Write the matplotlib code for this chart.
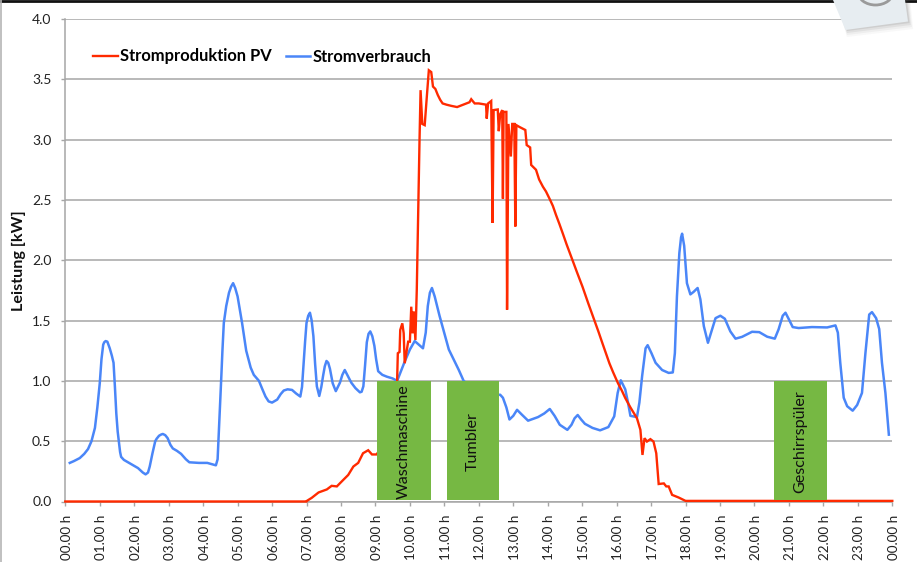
import numpy as np
import matplotlib
matplotlib.use("Agg")
import matplotlib.pyplot as plt
from matplotlib.patches import Polygon, Arc
from matplotlib.transforms import ScaledTranslation

plt.rcParams['font.family'] = ['Lato', 'DejaVu Sans']

# Stromverbrauch (Stunde, kW)
verbrauch_h = [0.13, 0.25, 0.42, 0.55, 0.66, 0.76, 0.86, 0.93, 1.0, 1.05, 1.1, 1.13, 1.17, 1.22, 1.29, 1.35, 1.40,
               1.44, 1.48, 1.52, 1.56, 1.59, 1.62, 1.7, 1.82, 2.11, 2.25, 2.33, 2.4, 2.45, 2.53, 2.57, 2.61, 2.65,
               2.72, 2.78, 2.83, 2.9, 2.97, 3.05, 3.12, 3.24, 3.36, 3.5, 3.6, 3.88, 4.12, 4.25, 4.37, 4.42, 4.46,
               4.53, 4.56, 4.6, 4.67, 4.75, 4.81, 4.87, 4.93, 5.0, 5.06, 5.13, 5.25, 5.38, 5.47, 5.62, 5.72, 5.81,
               5.9, 6.0, 6.15, 6.25, 6.34, 6.45, 6.58, 6.7, 6.82, 6.87, 6.91, 6.96, 7.0, 7.05, 7.1, 7.15, 7.2, 7.25,
               7.3, 7.37, 7.43, 7.48, 7.53, 7.58, 7.63, 7.68, 7.76, 7.85, 7.97, 8.04, 8.11, 8.2, 8.3, 8.42, 8.55,
               8.6, 8.65, 8.7, 8.75, 8.8, 8.85, 8.91, 8.97, 9.02, 9.08, 9.2, 9.33, 9.5,
               9.63, 9.85, 10.0, 10.14, 10.38, 10.46, 10.52, 10.58, 10.64, 10.72, 10.86, 11.13, 11.42, 11.56, 11.9, 12.3,
               12.62, 12.7, 12.8, 12.89, 13.0, 13.11, 13.25, 13.43, 13.72, 13.9, 14.06, 14.2, 14.35, 14.57, 14.69,
               14.78, 14.87, 14.97, 15.08, 15.3, 15.52, 15.76, 15.93, 16.03, 16.12, 16.25, 16.33, 16.4, 16.59, 16.66,
               16.74, 16.84, 16.9, 17.01, 17.13,
               17.32, 17.51, 17.63, 17.69, 17.75, 17.82, 17.87, 17.9, 17.96, 18.04, 18.14, 18.23, 18.35, 18.43, 18.53,
               18.65, 18.75, 18.87, 19.01, 19.14, 19.3, 19.45, 19.64, 19.93, 20.14, 20.37, 20.59, 20.7, 20.82,
               20.9, 20.99, 21.11, 21.28, 21.67, 22.11, 22.35, 22.42, 22.49, 22.59, 22.69, 22.85, 22.98, 23.12,
               23.22, 23.33, 23.41, 23.53, 23.62, 23.7, 23.8, 23.9]
verbrauch_kw = [0.32, 0.335, 0.36, 0.395, 0.435, 0.50, 0.61, 0.78, 0.98, 1.18, 1.30, 1.32, 1.33, 1.325, 1.27, 1.21, 1.15,
                0.95, 0.73, 0.58, 0.485, 0.41, 0.37, 0.345, 0.325, 0.277, 0.24, 0.225, 0.24, 0.29, 0.40, 0.45, 0.50, 0.52,
                0.545, 0.555, 0.56, 0.55, 0.525, 0.47, 0.44, 0.42, 0.395, 0.35, 0.325, 0.32, 0.32, 0.31, 0.30, 0.35, 0.6,
                1.05, 1.25, 1.48, 1.62, 1.73, 1.78, 1.81, 1.77, 1.70, 1.6, 1.48, 1.25, 1.11, 1.05, 1.0, 0.93, 0.87,
                0.83, 0.82, 0.845, 0.89, 0.92, 0.93, 0.925, 0.895, 0.87, 0.95, 1.12, 1.33, 1.48, 1.54, 1.565, 1.5, 1.37, 1.14,
                0.955, 0.875, 0.95, 1.04, 1.12, 1.165, 1.15, 1.1, 0.98, 0.915, 0.985, 1.05, 1.09, 1.04, 0.985, 0.94, 0.905,
                0.91, 0.955, 1.13, 1.32, 1.39, 1.41, 1.37, 1.29, 1.18, 1.08, 1.05, 1.035, 1.02,
                1.0, 1.16, 1.26, 1.33, 1.27, 1.4, 1.62, 1.73, 1.77, 1.70, 1.54, 1.26, 1.09, 1.0, 0.92, 0.88,
                0.885, 0.86, 0.78, 0.68, 0.71, 0.76, 0.72, 0.67, 0.70, 0.73, 0.767, 0.71, 0.636, 0.594, 0.636,
                0.69, 0.717, 0.68, 0.644, 0.61, 0.59, 0.617, 0.706, 0.90, 1.005, 0.93, 0.82, 0.71, 0.70, 0.82,
                1.04, 1.27, 1.296, 1.23, 1.15,
                1.09, 1.066, 1.07, 1.23, 1.70, 2.06, 2.19, 2.22, 2.12, 1.81, 1.717, 1.737, 1.77, 1.676, 1.454,
                1.316, 1.41, 1.52, 1.54, 1.515, 1.41, 1.35, 1.365, 1.407, 1.404, 1.366, 1.35, 1.427, 1.54,
                1.565, 1.515, 1.446, 1.438, 1.446, 1.443, 1.46, 1.4, 1.15, 0.86, 0.79, 0.753, 0.80, 0.90,
                1.23, 1.55, 1.57, 1.52, 1.43, 1.15, 0.90, 0.554]

# Stromproduktion PV (Stunde, kW)
produktion_h = [0.0, 7.0, 7.01, 7.15, 7.35, 7.59, 7.73, 7.88, 8.07, 8.21, 8.36, 8.5, 8.64, 8.79, 8.9, 9.03, 9.6,
                9.63, 9.65, 9.70, 9.72, 9.78, 9.82, 9.85, 9.95, 10.0, 10.04, 10.08, 10.11, 10.16, 10.2, 10.28,
                10.31, 10.36, 10.43, 10.49, 10.55, 10.62, 10.67, 10.74, 10.81, 10.88, 10.95, 11.06, 11.2, 11.37, 11.55,
                11.73, 11.78, 11.88, 12.0, 12.21, 12.23, 12.27, 12.36, 12.40, 12.43, 12.55, 12.58, 12.62, 12.68, 12.70,
                12.72, 12.80, 12.82, 12.86, 12.93, 12.97, 13.03, 13.06, 13.09, 13.18, 13.35, 13.39, 13.49, 13.52, 13.66,
                13.75, 13.86, 13.95, 14.07, 14.15, 14.24, 14.34, 14.44, 14.55, 14.72, 14.85, 15.01, 15.18, 15.35, 15.47,
                15.59, 15.7, 15.79, 15.9, 16.04, 16.15, 16.25, 16.4, 16.59, 16.69, 16.75, 16.81,
                16.88, 16.98, 17.07, 17.15, 17.22, 17.37, 17.44, 17.51, 17.61, 17.8, 18.0, 24.0]
produktion_kw = [0.0, 0.0, 0.005, 0.03, 0.075, 0.10, 0.13, 0.125, 0.18, 0.22, 0.29, 0.32, 0.40, 0.425, 0.39, 0.39, 0.6,
                 1.007, 1.229, 1.24, 1.422, 1.477, 1.395, 1.146, 1.325, 1.325, 1.615, 1.395, 1.574, 1.339, 1.754, 3.0,
                 3.41, 3.13, 3.12, 3.35, 3.575, 3.56, 3.44, 3.42, 3.37, 3.33, 3.30, 3.29, 3.28, 3.27, 3.29,
                 3.31, 3.335, 3.30, 3.30, 3.29, 3.175, 3.30, 3.32, 2.31, 3.245, 3.25, 3.07, 3.21, 3.245, 2.51,
                 3.23, 3.23, 1.59, 3.13, 2.86, 3.13, 3.13, 2.28, 3.12, 3.105, 3.08, 2.955, 2.935, 2.79, 2.75,
                 2.67, 2.61, 2.57, 2.5, 2.45, 2.376, 2.30, 2.22, 2.13, 2.0, 1.9, 1.78, 1.64, 1.505, 1.41,
                 1.31, 1.22, 1.146, 1.07, 0.98, 0.92, 0.858, 0.78, 0.69, 0.594, 0.386, 0.525,
                 0.497, 0.517, 0.497, 0.40, 0.145, 0.15, 0.125, 0.125, 0.055, 0.033, 0.005, 0.005]

# Geraete: Start, Ende, Name
geraet_start = [9.05, 11.07, 20.57]
geraet_ende = [10.6, 12.6, 22.1]
geraet_name = ["Waschmaschine", "Tumbler", "Geschirrspüler"]
geraet_kw = 1.0

y_ticks = [0.0, 0.5, 1.0, 1.5, 2.0, 2.5, 3.0, 3.5, 4.0]
x_labels = [f"{h:02d}.00 h" for h in range(24)] + ["00.00 h"]

W, H = 917, 562
grau = '#a6a6a6'


def px(x, y):
    return (x / W, 1 - y / H)


fig = plt.figure(figsize=(W / 100, H / 100), dpi=100)
ax = fig.add_axes([65.3 / W, (H - 501.5) / H, 827 / W, 482.5 / H])

ax.plot(verbrauch_h, verbrauch_kw, color='#4a86f8', lw=1.8, zorder=3, label='Stromverbrauch', solid_joinstyle='round')
ax.plot(produktion_h, produktion_kw, color='#ff2a00', lw=1.7, zorder=4, clip_on=False,
        label='Stromproduktion PV', solid_joinstyle='miter')

# gruene Balken liegen ueber den Linien
for start, ende, name in zip(geraet_start, geraet_ende, geraet_name):
    ax.bar((start + ende) / 2, geraet_kw - 0.012, bottom=0.012, width=ende - start, color='#76b843', zorder=5)
    ax.text(start + (ende - start) * 0.5, 0.493, name, rotation=90, ha='center', va='center',
            fontsize=11.6, color='#111111', zorder=6)

ax.set_xlim(0, 24)
ax.set_ylim(0, 4)
ax.set_yticks(y_ticks)
ax.set_yticklabels([f"{v:.1f}" for v in y_ticks], fontsize=10, color='#222222')
ax.set_xticks(range(25))
ax.set_xticklabels(x_labels, rotation=90, fontsize=9.7, color='#222222')
ax.tick_params(axis='both', color=grau, width=1.0, length=3)
ax.tick_params(axis='y', pad=7)
ax.tick_params(axis='x', pad=6.5)
verschiebung = ScaledTranslation(1.5 / 100, 0, fig.dpi_scale_trans)
for lab in ax.get_xticklabels():
    lab.set_transform(lab.get_transform() + verschiebung)
ax.grid(True, axis='y', color=grau, lw=1.1, zorder=1)
ax.set_axisbelow(True)
for s in ['top', 'right']:
    ax.spines[s].set_visible(False)
for s in ['left', 'bottom']:
    ax.spines[s].set_color(grau)
    ax.spines[s].set_linewidth(1.1)

fig.text(19 / W, 1 - 261 / H, "Leistung [kW]", rotation=90, ha='center', va='center',
         fontsize=11.6, fontweight='bold', color='#111111')

handles, labels = ax.get_legend_handles_labels()
ax.legend(handles[::-1], labels[::-1], ncol=2, frameon=False, loc='upper left',
          bbox_to_anchor=((93 - 65.3) / 827, (501.5 - 48.5) / 482.5), borderaxespad=0, borderpad=0,
          handlelength=1.5, handletextpad=0.12, columnspacing=0.85,
          prop={'size': 11.9, 'weight': 'bold'})

# Rahmen vom Screenshot
fig.add_artist(plt.Line2D([0, 1], [1 - 1 / H, 1 - 1 / H], transform=fig.transFigure, color='#111111', lw=2.0, zorder=5))
fig.add_artist(plt.Line2D([0.5 / W, 0.5 / W], [0, 1], transform=fig.transFigure, color='#b5b5b5', lw=1.2, zorder=5))

# Icon oben rechts
for off, alpha in [(7, 0.04), (5, 0.06), (3, 0.09), (1, 0.13)]:
    fig.add_artist(Polygon([px(836, 0), px(906 + off * 0.6, 0), px(909 + off * 0.6, 22 + off), px(847, 30 + off)],
                           transform=fig.transFigure, facecolor='#555555', edgecolor='none', alpha=alpha, zorder=10))
fig.add_artist(Polygon([px(833, 0), px(905, 0), px(908, 21.5), px(845.5, 30)],
                       transform=fig.transFigure, facecolor='#e7edf1', edgecolor='none', zorder=11))
fig.add_artist(Arc(px(875.5, -8), 35 / W, 26 / H, theta1=180, theta2=360, transform=fig.transFigure,
                   color='#9a9a9a', lw=2, zorder=12))

plt.savefig("out.png", dpi=100)
